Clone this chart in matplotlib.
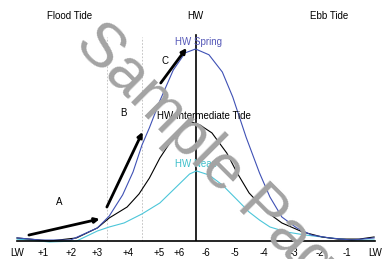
"""Tidal curve sketch: spring / intermediate / neap heights around HW."""
import matplotlib
matplotlib.use("Agg")
import matplotlib.pyplot as plt

plt.rcParams["font.family"] = ["Liberation Sans", "DejaVu Sans"]

# hours from LW (HW at 6) and relative height (spring HW = 1)
spring_t = [0, 0.8, 1.8, 2.7, 3.1, 3.55, 3.9, 4.2, 4.45, 4.8, 5.25, 5.65, 6.0,
            6.45, 6.9, 7.25, 7.7, 8.15, 8.5, 8.9, 9.4, 9.9, 10.5, 11.25, 12.0]
spring_h = [0.016, 0.005, 0.005, 0.068, 0.13, 0.24, 0.36, 0.50, 0.59, 0.73, 0.89, 0.98, 1.0,
            0.97, 0.88, 0.75, 0.54, 0.354, 0.229, 0.125, 0.068, 0.031, 0.016, 0.005, 0.016]

inter_t = [0, 1.1, 2.0, 2.7, 3.1, 3.7, 4.1, 4.45, 4.8, 5.2, 5.55, 5.87, 6.15,
           6.55, 7.05, 7.4, 7.8, 8.4, 8.9, 9.6, 10.25, 10.8, 11.5, 12.0]
inter_h = [0.016, 0.0, 0.016, 0.068, 0.12, 0.177, 0.245, 0.328, 0.432, 0.526, 0.589, 0.62, 0.604,
           0.563, 0.458, 0.354, 0.25, 0.151, 0.094, 0.047, 0.021, 0.010, 0.010, 0.021]

neap_t = [0, 1.1, 2.0, 2.7, 3.1, 3.6, 4.2, 4.8, 5.35, 5.8, 6.03, 6.45, 6.9,
          7.4, 7.8, 8.15, 8.5, 9.05, 9.7, 10.5, 11.25, 12.0]
neap_h = [0.010, -0.005, 0.0, 0.052, 0.073, 0.094, 0.141, 0.198, 0.281, 0.349, 0.365, 0.344, 0.292,
          0.214, 0.151, 0.109, 0.073, 0.047, 0.031, 0.016, 0.005, 0.005]

tick_pos = [0, 0.87, 1.81, 2.68, 3.72, 4.76, 5.46, 6.34, 7.32, 8.3, 9.32, 10.19, 11.1, 12.03]
tick_lab = ["LW", "+1", "+2", "+3", "+4", "+5", "+6", "-6", "-5", "-4", "-3", "-2", "-1", "LW"]

stage_lab = ["Flood Tide", "HW", "Ebb Tide"]
stage_pos = [1.78, 6.0, 10.49]

# rate-of-rise arrows (tail, head) and their letters
arrow_tail = [(0.40, 0.031), (3.02, 0.177), (4.83, 0.823)]
arrow_head = [(2.78, 0.115), (4.22, 0.568), (5.70, 1.005)]
arrow_lab = ["A", "B", "C"]
arrow_lab_pos = [(1.41, 0.203), (3.59, 0.667), (4.99, 0.9375)]

split_lines = [3.02, 4.19]

SPRING = "#3f51b5"
NEAP = "#4cc6d9"

fig = plt.figure(figsize=(3.85, 2.59), dpi=100)
ax = fig.add_axes([17 / 385, 18 / 259, 358 / 385, 240 / 259])
ax.set_xlim(0, 12)
ax.set_ylim(0, 1.25)

for x in split_lines:
    ax.plot([x, x], [0, 1.0625], color="#bbbbbb", lw=0.6, ls=(0, (2, 2)))
ax.plot([6, 6], [0, 1.073], color="black", lw=1.2)

ax.plot(neap_t, neap_h, color=NEAP, lw=0.8, clip_on=False)
ax.plot(inter_t, inter_h, color="black", lw=0.8, clip_on=False)
ax.plot(spring_t, spring_h, color=SPRING, lw=0.8, clip_on=False)

for tail, head in zip(arrow_tail, arrow_head):
    ax.annotate("", xy=head, xytext=tail,
                arrowprops=dict(arrowstyle="-|>", color="black", lw=2.0,
                                mutation_scale=7, shrinkA=0, shrinkB=0))
for lab, pos in zip(arrow_lab, arrow_lab_pos):
    ax.text(pos[0], pos[1], lab, fontsize=7, ha="center", va="center")

ax.text(5.30, 1.036, "HW Spring", color="#5558b8", fontsize=7, va="center")
ax.text(4.69, 0.651, "HW Intermediate Tide", color="black", fontsize=7, va="center")
ax.text(5.30, 0.401, "HW Neap", color="#3cbfca", fontsize=7, va="center")

for lab, x in zip(stage_lab, stage_pos):
    ax.text(x, 1.17, lab, fontsize=7, ha="center", va="center")

ax.set_xticks(tick_pos)
ax.set_xticklabels(tick_lab, fontsize=7)
ax.tick_params(axis="x", length=0, pad=5)
ax.set_yticks([])
for side in ["left", "right", "top"]:
    ax.spines[side].set_visible(False)
ax.spines["bottom"].set_linewidth(1.2)

fig.text(0.566, 0.359, "Sample Page", fontsize=45, color="#a3a3a3",
         rotation=-45, ha="center", va="center", rotation_mode="anchor", zorder=10)

fig.savefig("out.png", dpi=100)
